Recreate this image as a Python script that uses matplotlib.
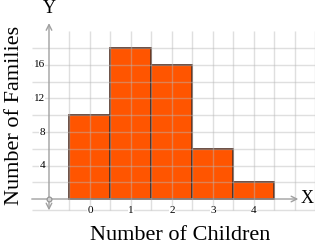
import matplotlib
matplotlib.use("Agg")
import matplotlib.pyplot as plt
import numpy as np

children = [0, 1, 2, 3, 4]
families = [10, 18, 16, 6, 2]
y_ticks = [4, 8, 12, 16]

plt.rcParams['font.family'] = ['Liberation Serif', 'DejaVu Serif']

fig = plt.figure(figsize=(3.15, 2.47), dpi=100)
ax = fig.add_axes([0, 0, 1, 1])
ax.set_xlim(-2.195, 5.488)
ax.set_ylim(-5.73, 23.76)
ax.axis('off')

# bars
ax.bar(children, families, width=1.0, color='#ff5500', edgecolor='#4a2618',
       linewidth=1.2, zorder=2)

# grid (drawn over the bars, semi transparent)
gx = np.arange(-0.5, 5.51, 0.5)
gy = np.arange(2, 19, 2)
ax.vlines(gx, -1.3, 20, colors='#b8b8b8', linewidth=1, alpha=0.45, zorder=3)
ax.hlines(gy, -1.42, 5.5, colors='#b8b8b8', linewidth=1, alpha=0.45, zorder=3)
ax.hlines([-1.3], -1.42, 5.5, colors='#b8b8b8', linewidth=1, alpha=0.45, zorder=3)

# axes with arrows
arr = dict(arrowstyle='->', color='#a0a0a0', lw=1, shrinkA=0, shrinkB=0)
ax.annotate('', xy=(-1, 21), xytext=(-1, 0), arrowprops=arr, zorder=4)
ax.annotate('', xy=(-1, -1.35), xytext=(-1, 0), arrowprops=arr, zorder=4)
ax.annotate('', xy=(5.08, 0), xytext=(-1.42, 0), arrowprops=arr, zorder=4)
ax.plot([-1], [0], marker='o', ms=3.5, mfc='#d0d0d0', mec='#909090', mew=0.8, zorder=5)

# tick labels
for v in y_ticks:
    ax.text(-1.1, v, str(v), ha='right', va='center', fontsize=8, zorder=6,
            bbox=dict(fc='white', ec='none', pad=0.4))
for c in children:
    ax.text(c, -1.38, str(c), ha='center', va='center', fontsize=8, zorder=6,
            bbox=dict(fc='white', ec='none', pad=0.4))

ax.text(-1, 22.7, 'Y', ha='center', va='center', fontsize=13)
ax.text(5.3, 0.1, 'X', ha='center', va='center', fontsize=13)
ax.text(-1.83, 10, 'Number of Families', rotation=90, ha='center', va='center', fontsize=16)
ax.text(2.2, -4.4, 'Number of Children', ha='center', va='center', fontsize=16)

fig.savefig('out.png', dpi=100)
